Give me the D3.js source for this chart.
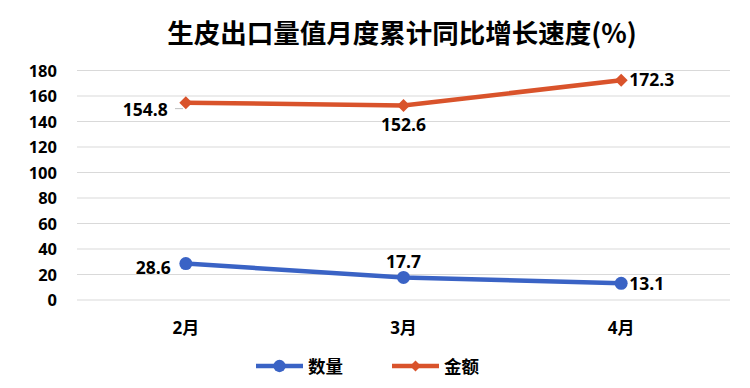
<!DOCTYPE html>
<html>
<head>
<meta charset="utf-8">
<script src="https://cdn.jsdelivr.net/npm/d3@7"></script>
<style>
  body { margin: 0; background: #fff; }
  text { font-family: "Open Sans", "Noto Sans CJK SC", sans-serif; font-weight: bold; fill: #000; }
</style>
</head>
<body>
<svg id="chart" width="750" height="388"></svg>
<script>
// data
const months = ["2月", "3月", "4月"];
const quantity = [28.6, 17.7, 13.1];
const amount = [154.8, 152.6, 172.3];
const yTicks = [0, 20, 40, 60, 80, 100, 120, 140, 160, 180];
const seriesNames = ["数量", "金额"];

const blue = "#3a63c5";
const orange = "#d9532b";

const svg = d3.select("#chart");

const x = d3.scalePoint().domain(months).range([77, 730]).padding(0.5);
const y = d3.scaleLinear().domain([0, 180]).range([300, 70.5]);

// a square diamond, like the spreadsheet marker
const diamond = s => `M0,${-s}L${s},0L0,${s}L${-s},0Z`;

// title
svg.append("text")
    .attr("x", 402).attr("y", 43)
    .attr("text-anchor", "middle")
    .style("font-family", "'Noto Sans CJK SC', sans-serif")
    .style("font-size", "26.5px")
    .text("生皮出口量值月度累计同比增长速度(%)");

// grid
svg.append("g").selectAll("line")
    .data(yTicks)
    .enter().append("line")
    .attr("x1", 77).attr("x2", 730)
    .attr("y1", d => y(d)).attr("y2", d => y(d))
    .attr("stroke", "#d9d9d9").attr("stroke-width", 1.2);

// y axis labels
svg.append("g").selectAll("text")
    .data(yTicks)
    .enter().append("text")
    .attr("x", 57).attr("y", d => y(d) + 6)
    .attr("text-anchor", "end")
    .style("font-size", "16.5px")
    .text(d => d);

// x axis labels
svg.append("g").selectAll("text")
    .data(months)
    .enter().append("text")
    .attr("x", d => x(d)).attr("y", 334)
    .attr("text-anchor", "middle")
    .style("font-size", "17px")
    .text(d => d);

const line = d3.line().x((d, i) => x(months[i])).y(d => y(d));

// amount series
svg.append("path")
    .datum(amount)
    .attr("d", line)
    .attr("fill", "none").attr("stroke", orange).attr("stroke-width", 4.5);
svg.append("g").selectAll("path")
    .data(amount)
    .enter().append("path")
    .attr("d", diamond(6.5))
    .attr("transform", (d, i) => `translate(${x(months[i])},${y(d)})`)
    .attr("fill", orange);

// quantity series
svg.append("path")
    .datum(quantity)
    .attr("d", line)
    .attr("fill", "none").attr("stroke", blue).attr("stroke-width", 4.5);
svg.append("g").selectAll("circle")
    .data(quantity)
    .enter().append("circle")
    .attr("cx", (d, i) => x(months[i])).attr("cy", d => y(d))
    .attr("r", 6.5).attr("fill", blue);

// leader line for first amount label
svg.append("line")
    .attr("x1", 175).attr("x2", 183)
    .attr("y1", y(amount[0]) + 6).attr("y2", y(amount[0]) + 6)
    .attr("stroke", "#bfbfbf").attr("stroke-width", 1);

// data labels
const amountPos = [
    { dx: -18, dy: 13, anchor: "end" },
    { dx: 0, dy: 26, anchor: "middle" },
    { dx: 8, dy: 6, anchor: "start" }
];
const quantityPos = [
    { dx: -15, dy: 10, anchor: "end" },
    { dx: 0, dy: -9, anchor: "middle" },
    { dx: 8, dy: 7, anchor: "start" }
];
svg.append("g").selectAll("text")
    .data(amount)
    .enter().append("text")
    .attr("x", (d, i) => x(months[i]) + amountPos[i].dx)
    .attr("y", (d, i) => y(d) + amountPos[i].dy)
    .attr("text-anchor", (d, i) => amountPos[i].anchor)
    .style("font-size", "17.5px")
    .text(d => d.toFixed(1));
svg.append("g").selectAll("text")
    .data(quantity)
    .enter().append("text")
    .attr("x", (d, i) => x(months[i]) + quantityPos[i].dx)
    .attr("y", (d, i) => y(d) + quantityPos[i].dy)
    .attr("text-anchor", (d, i) => quantityPos[i].anchor)
    .style("font-size", "17.5px")
    .text(d => d.toFixed(1));

// legend
const legend = [
    { name: seriesNames[0], color: blue, x: 256, shape: "circle" },
    { name: seriesNames[1], color: orange, x: 392, shape: "diamond" }
];
const lg = svg.append("g").selectAll("g")
    .data(legend)
    .enter().append("g")
    .attr("transform", d => `translate(${d.x},366)`);
lg.append("line")
    .attr("x1", 0).attr("x2", 47)
    .attr("stroke", d => d.color).attr("stroke-width", 4.5);
lg.append("path")
    .attr("d", d => d.shape === "circle"
        ? d3.symbol(d3.symbolCircle, 120)()
        : diamond(5.5))
    .attr("transform", "translate(23.5,0)")
    .attr("fill", d => d.color);
lg.append("text")
    .attr("x", 52).attr("y", 6.5)
    .style("font-family", "'Noto Sans CJK SC', sans-serif")
    .style("font-size", "17.5px")
    .text(d => d.name);
</script>
</body>
</html>
